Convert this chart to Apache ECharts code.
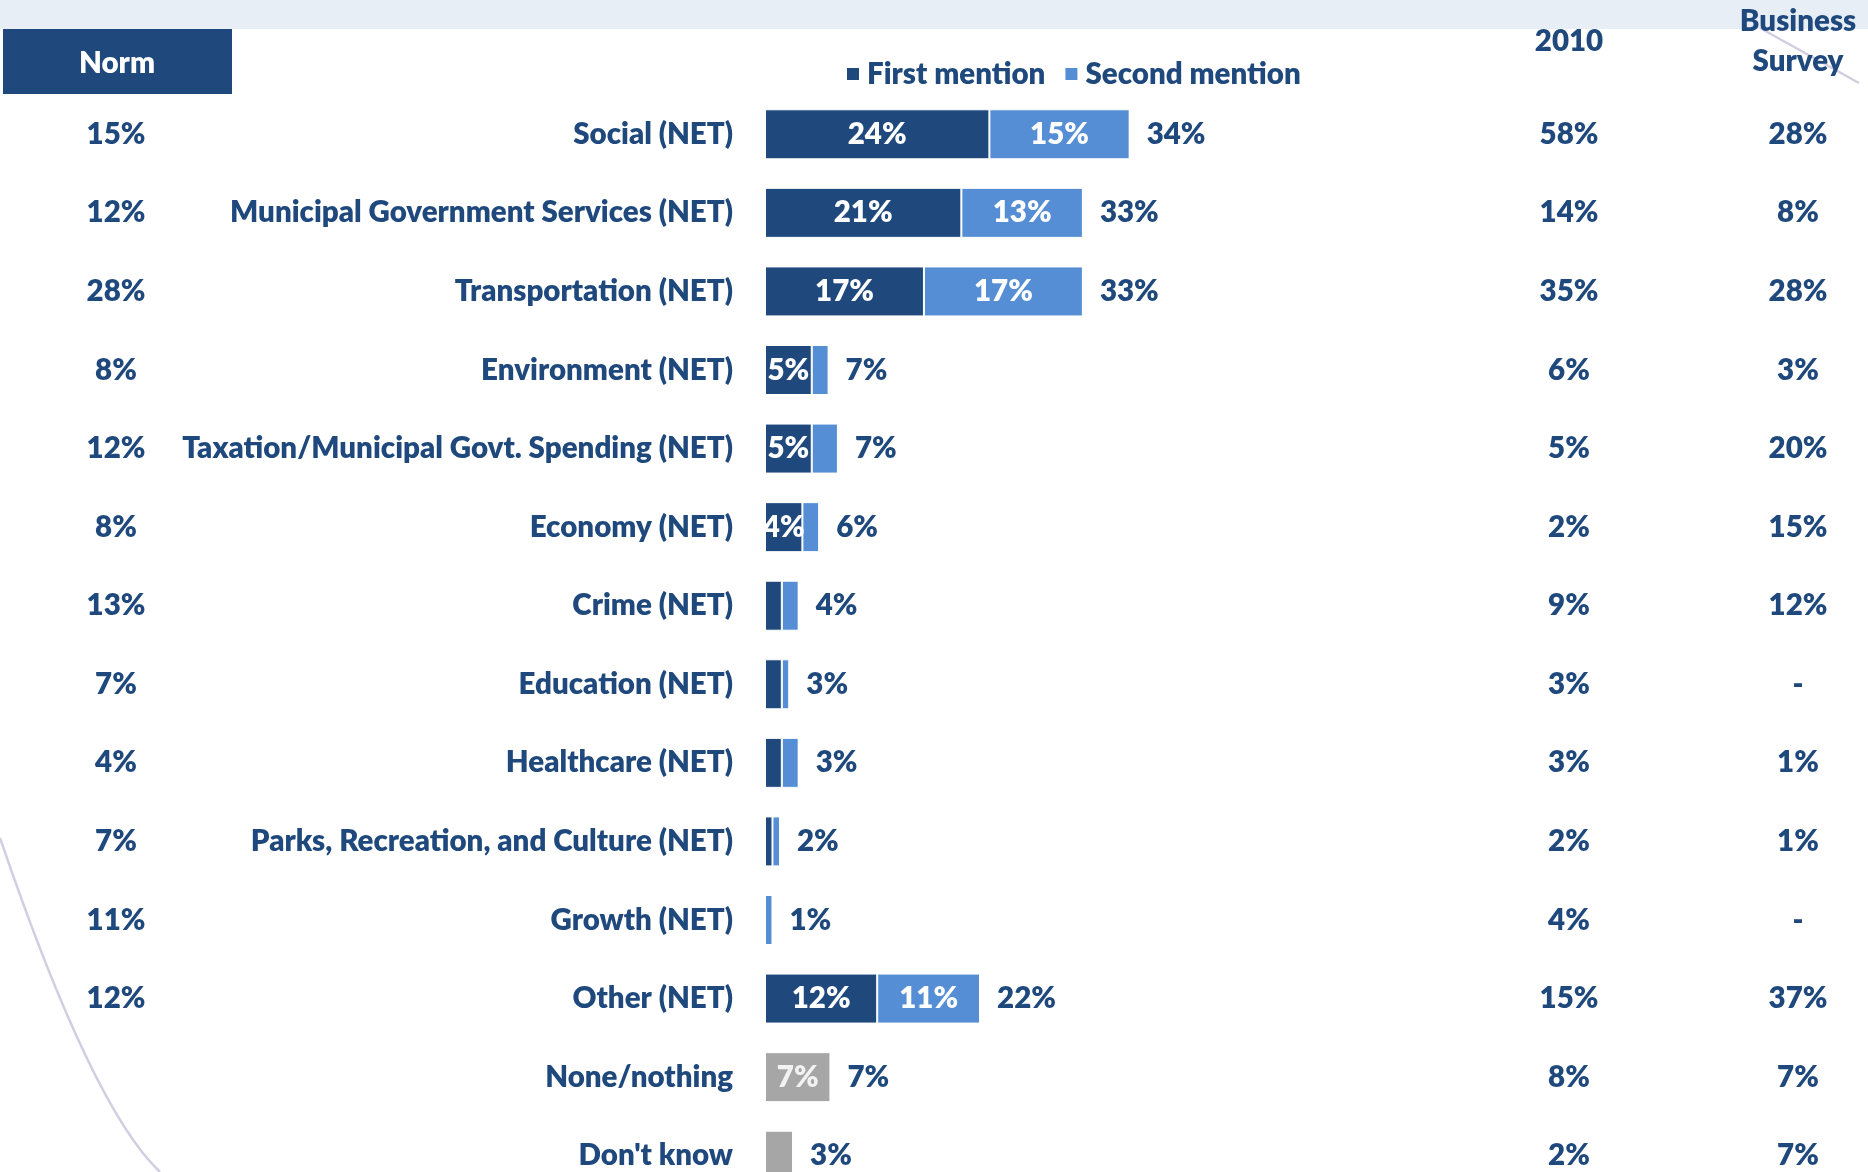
<!DOCTYPE html>
<html>
<head>
<meta charset="utf-8">
<title>Most important issues</title>
<script src="https://cdn.jsdelivr.net/npm/echarts@6/dist/echarts.min.js"></script>
<style>
  html, body { margin: 0; padding: 0; background: #ffffff; overflow: hidden; }
  #chart { width: 1868px; height: 1240px; }
</style>
</head>
<body>
<div id="chart"></div>
<script>
// Issue categories, top to bottom
const categories = [
  'Social (NET)',
  'Municipal Government Services (NET)',
  'Transportation (NET)',
  'Environment (NET)',
  'Taxation/Municipal Govt. Spending (NET)',
  'Economy (NET)',
  'Crime (NET)',
  'Education (NET)',
  'Healthcare (NET)',
  'Parks, Recreation, and Culture (NET)',
  'Growth (NET)',
  'Other (NET)',
  'None/nothing',
  "Don't know"
];

// Percent of respondents, first and second mention
const firstMention  = [24, 21, 17, 5, 5, 4, 1.8, 1.8, 1.8, 0.8, 0, 12, 0, 0];
const secondMention = [15, 13, 17, 1.8, 2.8, 1.8, 1.8, 0.8, 1.8, 0.8, 0.8, 11, 0, 0];
// Non-answers (single bar)
const noIssue       = [0, 0, 0, 0, 0, 0, 0, 0, 0, 0, 0, 0, 7, 3];
// Net mentions shown after each bar
const netMentions   = [34, 33, 33, 7, 7, 6, 4, 3, 3, 2, 1, 22, 7, 3];

// Comparison columns
const normLabels     = ['15%', '12%', '28%', '8%', '12%', '8%', '13%', '7%', '4%', '7%', '11%', '12%', '', ''];
const year2010Labels = ['58%', '14%', '35%', '6%', '5%', '2%', '9%', '3%', '3%', '2%', '4%', '15%', '8%', '2%'];
const businessLabels = ['28%', '8%', '28%', '3%', '20%', '15%', '12%', '-', '1%', '1%', '-', '37%', '7%', '7%'];

const NAVY = '#1F497D';
const LIGHT = '#558ED5';
const GREY = '#A6A6A6';
const FONT = 'Lato';
const FS = 29.5;
const FW = 800;

const chart = echarts.init(document.getElementById('chart'), null, { renderer: 'canvas' });

const gridLeft = 765, gridWidth = 748;

const textStyle = (color) => ({
  color: color,
  fontFamily: FONT,
  fontWeight: FW,
  fontSize: FS
});

const inner = (color) => Object.assign({
  show: true,
  position: 'inside',
  formatter: p => (p.value >= 4 ? Math.round(p.value) + '%' : '')
}, textStyle(color));

const columnAxis = (labels, position, offset) => ({
  type: 'category',
  data: labels,
  inverse: true,
  position: position,
  offset: offset,
  axisLine: { show: false },
  axisTick: { show: false },
  splitLine: { show: false },
  axisLabel: Object.assign({ margin: 0, align: 'center' }, textStyle(NAVY))
});

const headerFont = FW + ' ' + FS + 'px ' + FONT;

const option = {
  backgroundColor: '#ffffff',
  animation: false,
  legend: {
    data: ['First mention', 'Second mention'],
    left: 840,
    top: 54,
    icon: 'rect',
    itemWidth: 14,
    itemHeight: 14,
    itemGap: 18,
    textStyle: Object.assign({ padding: [0, 0, 0, 2] }, textStyle(NAVY))
  },
  grid: { left: gridLeft, top: 95, width: gridWidth, height: 1100, containLabel: false },
  xAxis: { type: 'value', min: 0, max: 80, show: false },
  yAxis: [
    {
      type: 'category',
      data: categories,
      inverse: true,
      axisLine: { show: false },
      axisTick: { show: false },
      splitLine: { show: false },
      axisLabel: Object.assign({ margin: 32 }, textStyle(NAVY))
    },
    columnAxis(normLabels, 'left', gridLeft - 116),
    columnAxis(year2010Labels, 'right', 1569 - (gridLeft + gridWidth)),
    columnAxis(businessLabels, 'right', 1798 - (gridLeft + gridWidth))
  ],
  series: [
    {
      name: 'First mention',
      type: 'bar',
      stack: 'mentions',
      barWidth: 50,
      data: firstMention,
      itemStyle: { color: NAVY, borderColor: '#ffffff', borderWidth: 1 },
      label: inner('#ffffff')
    },
    {
      name: 'Second mention',
      type: 'bar',
      stack: 'mentions',
      barWidth: 50,
      data: secondMention,
      itemStyle: { color: LIGHT, borderColor: '#ffffff', borderWidth: 1 },
      label: inner('#ffffff')
    },
    {
      name: 'No issue',
      type: 'bar',
      stack: 'mentions',
      barWidth: 50,
      data: noIssue,
      itemStyle: { color: GREY, borderColor: '#ffffff', borderWidth: 1 },
      label: inner('#F2F2F2')
    },
    {
      name: 'Net',
      type: 'scatter',
      symbolSize: 0,
      silent: true,
      itemStyle: { opacity: 1 },
      data: categories.map((c, i) => ({
        value: [firstMention[i] + secondMention[i] + noIssue[i], c],
        net: netMentions[i]
      })),
      label: Object.assign({
        show: true,
        position: 'right',
        distance: 17,
        opacity: 1,
        formatter: p => p.data.net + '%'
      }, textStyle(NAVY))
    }
  ],
  graphic: [
    // light header band
    { type: 'rect', left: 0, top: 0, shape: { width: 1868, height: 29 }, style: { fill: '#E7EEF6' }, z: 0 },
    // slide decoration: thin arc bottom-left
    {
      type: 'bezierCurve',
      shape: { x1: 0, y1: 838, x2: 160, y2: 1172, cpx1: 92, cpy1: 1108 },
      style: { stroke: '#D2CEE1', lineWidth: 2.5, fill: null },
      z: 0
    },
    // slide decoration: thin diagonal top-right
    {
      type: 'line',
      shape: { x1: 1760, y1: 28, x2: 1859, y2: 83 },
      style: { stroke: '#D2CEE1', lineWidth: 2.5 },
      z: 0
    },
    // Norm header box
    { type: 'rect', left: 3, top: 29, shape: { width: 229, height: 65 }, style: { fill: NAVY }, z: 1 },
    {
      type: 'text', x: 117, y: 63, z: 2,
      style: { text: 'Norm', fill: '#ffffff', font: headerFont, textAlign: 'center', textVerticalAlign: 'middle' }
    },
    {
      type: 'text', x: 1569, y: 41, z: 2,
      style: { text: '2010', fill: NAVY, font: headerFont, textAlign: 'center', textVerticalAlign: 'middle' }
    },
    {
      type: 'text', x: 1798, y: 21, z: 2,
      style: { text: 'Business', fill: NAVY, font: headerFont, textAlign: 'center', textVerticalAlign: 'middle' }
    },
    {
      type: 'text', x: 1798, y: 61, z: 2,
      style: { text: 'Survey', fill: NAVY, font: headerFont, textAlign: 'center', textVerticalAlign: 'middle' }
    }
  ]
};

chart.setOption(option);
</script>
</body>
</html>
